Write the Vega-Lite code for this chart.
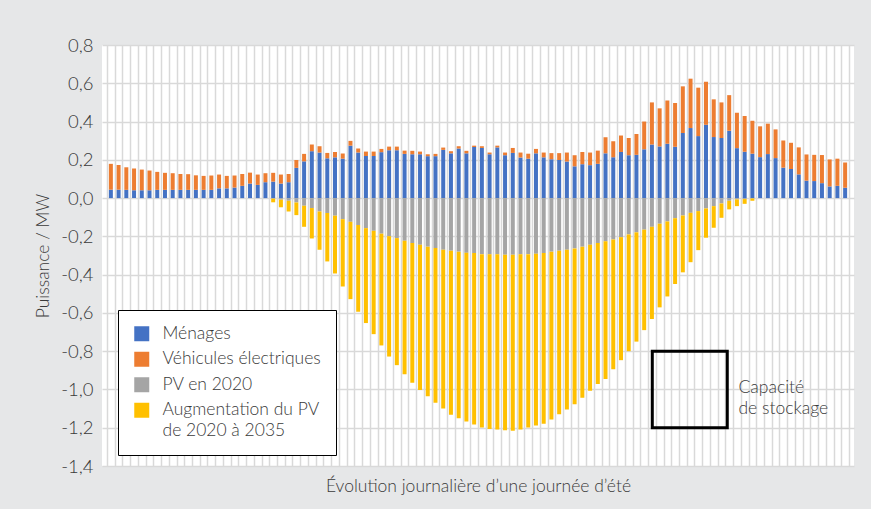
{
  "$schema": "https://vega.github.io/schema/vega-lite/v6.json",
  "autosize": {"type": "none"},
  "width": 752,
  "height": 421,
  "padding": {"left": 102, "top": 45, "right": 17, "bottom": 43},
  "background": "#e6e7e8",
  "config": {
    "font": "Lato",
    "view": {"fill": "white", "stroke": null},
    "axis": {"labelColor": "#3a3a3a", "titleColor": "#3a3a3a", "titleFontWeight": 300, "labelFontWeight": 300, "gridColor": "#d9d9d9", "gridWidth": 1.5}
  },
  "layer": [
    {
      "data": {"values": [
        {"t":0,"men":0.044,"ve":0.135,"pv":0,"pva":0},
        {"t":1,"men":0.044,"ve":0.129,"pv":0,"pva":0},
        {"t":2,"men":0.043,"ve":0.118,"pv":0,"pva":0},
        {"t":3,"men":0.041,"ve":0.113,"pv":0,"pva":0},
        {"t":4,"men":0.041,"ve":0.108,"pv":0,"pva":0},
        {"t":5,"men":0.041,"ve":0.103,"pv":0,"pva":0},
        {"t":6,"men":0.043,"ve":0.094,"pv":0,"pva":0},
        {"t":7,"men":0.043,"ve":0.089,"pv":0,"pva":0},
        {"t":8,"men":0.043,"ve":0.087,"pv":0,"pva":0},
        {"t":9,"men":0.043,"ve":0.083,"pv":0,"pva":0},
        {"t":10,"men":0.043,"ve":0.082,"pv":0,"pva":0},
        {"t":11,"men":0.043,"ve":0.076,"pv":0,"pva":0},
        {"t":12,"men":0.043,"ve":0.073,"pv":0,"pva":0},
        {"t":13,"men":0.043,"ve":0.075,"pv":0,"pva":0},
        {"t":14,"men":0.051,"ve":0.072,"pv":0,"pva":0},
        {"t":15,"men":0.051,"ve":0.065,"pv":0,"pva":0},
        {"t":16,"men":0.055,"ve":0.063,"pv":0,"pva":0},
        {"t":17,"men":0.064,"ve":0.062,"pv":0,"pva":0},
        {"t":18,"men":0.076,"ve":0.057,"pv":0,"pva":0},
        {"t":19,"men":0.069,"ve":0.054,"pv":0,"pva":0},
        {"t":20,"men":0.083,"ve":0.047,"pv":0,"pva":0},
        {"t":21,"men":0.086,"ve":0.046,"pv":-0.003,"pva":-0.019},
        {"t":22,"men":0.076,"ve":0.047,"pv":-0.008,"pva":-0.040},
        {"t":23,"men":0.083,"ve":0.043,"pv":-0.014,"pva":-0.056},
        {"t":24,"men":0.158,"ve":0.041,"pv":-0.023,"pva":-0.066},
        {"t":25,"men":0.192,"ve":0.039,"pv":-0.040,"pva":-0.110},
        {"t":26,"men":0.245,"ve":0.035,"pv":-0.052,"pva":-0.159},
        {"t":27,"men":0.238,"ve":0.033,"pv":-0.070,"pva":-0.200},
        {"t":28,"men":0.208,"ve":0.028,"pv":-0.078,"pva":-0.253},
        {"t":29,"men":0.213,"ve":0.028,"pv":-0.092,"pva":-0.302},
        {"t":30,"men":0.206,"ve":0.027,"pv":-0.110,"pva":-0.352},
        {"t":31,"men":0.274,"ve":0.025,"pv":-0.124,"pva":-0.404},
        {"t":32,"men":0.238,"ve":0.021,"pv":-0.141,"pva":-0.453},
        {"t":33,"men":0.220,"ve":0.023,"pv":-0.157,"pva":-0.496},
        {"t":34,"men":0.220,"ve":0.023,"pv":-0.171,"pva":-0.540},
        {"t":35,"men":0.240,"ve":0.017,"pv":-0.186,"pva":-0.584},
        {"t":36,"men":0.250,"ve":0.019,"pv":-0.199,"pva":-0.629},
        {"t":37,"men":0.250,"ve":0.019,"pv":-0.209,"pva":-0.664},
        {"t":38,"men":0.231,"ve":0.017,"pv":-0.223,"pva":-0.697},
        {"t":39,"men":0.229,"ve":0.018,"pv":-0.235,"pva":-0.730},
        {"t":40,"men":0.229,"ve":0.014,"pv":-0.244,"pva":-0.759},
        {"t":41,"men":0.219,"ve":0.010,"pv":-0.254,"pva":-0.781},
        {"t":42,"men":0.219,"ve":0.012,"pv":-0.261,"pva":-0.809},
        {"t":43,"men":0.252,"ve":0.012,"pv":-0.270,"pva":-0.829},
        {"t":44,"men":0.234,"ve":0.011,"pv":-0.275,"pva":-0.857},
        {"t":45,"men":0.259,"ve":0.012,"pv":-0.280,"pva":-0.870},
        {"t":46,"men":0.234,"ve":0.013,"pv":-0.286,"pva":-0.881},
        {"t":47,"men":0.267,"ve":0.007,"pv":-0.287,"pva":-0.896},
        {"t":48,"men":0.262,"ve":0.009,"pv":-0.293,"pva":-0.906},
        {"t":49,"men":0.229,"ve":0.009,"pv":-0.294,"pva":-0.912},
        {"t":50,"men":0.265,"ve":0.009,"pv":-0.294,"pva":-0.915},
        {"t":51,"men":0.224,"ve":0.014,"pv":-0.296,"pva":-0.917},
        {"t":52,"men":0.236,"ve":0.026,"pv":-0.296,"pva":-0.920},
        {"t":53,"men":0.212,"ve":0.026,"pv":-0.294,"pva":-0.915},
        {"t":54,"men":0.206,"ve":0.026,"pv":-0.293,"pva":-0.906},
        {"t":55,"men":0.234,"ve":0.023,"pv":-0.291,"pva":-0.897},
        {"t":56,"men":0.213,"ve":0.025,"pv":-0.287,"pva":-0.892},
        {"t":57,"men":0.203,"ve":0.032,"pv":-0.280,"pva":-0.877},
        {"t":58,"men":0.199,"ve":0.036,"pv":-0.275,"pva":-0.854},
        {"t":59,"men":0.191,"ve":0.047,"pv":-0.270,"pva":-0.835},
        {"t":60,"men":0.166,"ve":0.058,"pv":-0.263,"pva":-0.814},
        {"t":61,"men":0.177,"ve":0.064,"pv":-0.254,"pva":-0.790},
        {"t":62,"men":0.172,"ve":0.066,"pv":-0.244,"pva":-0.763},
        {"t":63,"men":0.179,"ve":0.069,"pv":-0.235,"pva":-0.737},
        {"t":64,"men":0.234,"ve":0.084,"pv":-0.226,"pva":-0.720},
        {"t":65,"men":0.213,"ve":0.084,"pv":-0.216,"pva":-0.679},
        {"t":66,"men":0.241,"ve":0.086,"pv":-0.204,"pva":-0.643},
        {"t":67,"men":0.224,"ve":0.090,"pv":-0.190,"pva":-0.610},
        {"t":68,"men":0.226,"ve":0.109,"pv":-0.179,"pva":-0.571},
        {"t":69,"men":0.255,"ve":0.145,"pv":-0.165,"pva":-0.525},
        {"t":70,"men":0.280,"ve":0.220,"pv":-0.150,"pva":-0.482},
        {"t":71,"men":0.270,"ve":0.199,"pv":-0.134,"pva":-0.437},
        {"t":72,"men":0.284,"ve":0.226,"pv":-0.122,"pva":-0.392},
        {"t":73,"men":0.268,"ve":0.229,"pv":-0.105,"pva":-0.344},
        {"t":74,"men":0.340,"ve":0.244,"pv":-0.091,"pva":-0.297},
        {"t":75,"men":0.366,"ve":0.258,"pv":-0.077,"pva":-0.258},
        {"t":76,"men":0.324,"ve":0.253,"pv":-0.068,"pva":-0.204},
        {"t":77,"men":0.383,"ve":0.225,"pv":-0.054,"pva":-0.153},
        {"t":78,"men":0.319,"ve":0.197,"pv":-0.042,"pva":-0.113},
        {"t":79,"men":0.314,"ve":0.186,"pv":-0.028,"pva":-0.075},
        {"t":80,"men":0.352,"ve":0.186,"pv":-0.014,"pva":-0.045},
        {"t":81,"men":0.261,"ve":0.185,"pv":-0.007,"pva":-0.035},
        {"t":82,"men":0.242,"ve":0.187,"pv":-0.005,"pva":-0.025},
        {"t":83,"men":0.232,"ve":0.172,"pv":-0.002,"pva":-0.012},
        {"t":84,"men":0.214,"ve":0.161,"pv":0,"pva":0},
        {"t":85,"men":0.230,"ve":0.159,"pv":0,"pva":0},
        {"t":86,"men":0.209,"ve":0.150,"pv":0,"pva":0},
        {"t":87,"men":0.159,"ve":0.142,"pv":0,"pva":0},
        {"t":88,"men":0.152,"ve":0.137,"pv":0,"pva":0},
        {"t":89,"men":0.124,"ve":0.141,"pv":0,"pva":0},
        {"t":90,"men":0.091,"ve":0.137,"pv":0,"pva":0},
        {"t":91,"men":0.089,"ve":0.137,"pv":0,"pva":0},
        {"t":92,"men":0.078,"ve":0.147,"pv":0,"pva":0},
        {"t":93,"men":0.061,"ve":0.141,"pv":0,"pva":0},
        {"t":94,"men":0.064,"ve":0.142,"pv":0,"pva":0},
        {"t":95,"men":0.054,"ve":0.132,"pv":0,"pva":0}
      ]},
      "transform": [{"fold": ["men", "ve", "pv", "pva"], "as": ["serie", "val"]}],
      "mark": {"type": "bar", "size": 4},
      "encoding": {
        "x": {
          "field": "t", "type": "quantitative",
          "scale": {"domain": [-0.5, 95.5], "nice": false, "zero": false},
          "axis": {
            "values": [-0.5,0.5,1.5,2.5,3.5,4.5,5.5,6.5,7.5,8.5,9.5,10.5,11.5,12.5,13.5,14.5,15.5,16.5,17.5,18.5,19.5,20.5,21.5,22.5,23.5,24.5,25.5,26.5,27.5,28.5,29.5,30.5,31.5,32.5,33.5,34.5,35.5,36.5,37.5,38.5,39.5,40.5,41.5,42.5,43.5,44.5,45.5,46.5,47.5,48.5,49.5,50.5,51.5,52.5,53.5,54.5,55.5,56.5,57.5,58.5,59.5,60.5,61.5,62.5,63.5,64.5,65.5,66.5,67.5,68.5,69.5,70.5,71.5,72.5,73.5,74.5,75.5,76.5,77.5,78.5,79.5,80.5,81.5,82.5,83.5,84.5,85.5,86.5,87.5,88.5,89.5,90.5,91.5,92.5,93.5,94.5,95.5],
            "tickCount": 500,
            "grid": true, "labels": false, "ticks": false, "domain": false,
            "title": "Évolution journalière d’une journée d’été",
            "titleFontSize": 17.5, "titlePadding": 11
          }
        },
        "y": {
          "field": "val", "type": "quantitative", "stack": "zero",
          "scale": {"domain": [-1.4, 0.8], "nice": false},
          "axis": {
            "values": [-1.4,-1.2,-1.0,-0.8,-0.6,-0.4,-0.2,0,0.2,0.4,0.6,0.8],
            "tickCount": 50, "labelOverlap": false,
            "labelExpr": "replace(replace(format(datum.value, '.1f'), '.', ','), '−', '-')",
            "grid": true, "ticks": false, "domain": false,
            "labelFontSize": 18.5, "labelPadding": 9,
            "title": "Puissance / MW", "titleFontSize": 17.5, "titlePadding": 8
          }
        },
        "color": {
          "field": "serie", "type": "nominal",
          "scale": {"domain": ["men", "ve", "pv", "pva"], "range": ["#4472c4", "#ed7d31", "#a5a5a5", "#ffc000"]},
          "legend": {
            "orient": "none", "legendX": 16, "legendY": 265, "title": null,
            "symbolType": "square", "symbolSize": 225, "symbolStrokeWidth": 0,
            "labelFontSize": 17.5, "labelFontWeight": 300, "labelColor": "#3a3a3a", "labelOffset": 12, "labelLimit": 300,
            "rowPadding": 6.5, "padding": 15,
            "strokeColor": "#000000", "fillColor": "#ffffff",
            "labelExpr": "datum.label == 'men' ? 'Ménages' : datum.label == 've' ? 'Véhicules électriques' : datum.label == 'pv' ? 'PV en 2020' : ['Augmentation du PV', 'de 2020 à 2035']",
            "encode": {"labels": {"update": {"lineHeight": {"value": 21}}}}
          }
        },
        "order": {"field": "serie", "sort": "ascending"}
      }
    },
    {
      "data": {"values": [{"t": 70.05, "t2": 79.75, "val": -0.8, "val2": -1.2}]},
      "mark": {"type": "rect", "fill": null, "stroke": "#000000", "strokeWidth": 3},
      "encoding": {
        "x": {"field": "t", "type": "quantitative"},
        "x2": {"field": "t2"},
        "y": {"field": "val", "type": "quantitative"},
        "y2": {"field": "val2"}
      }
    },
    {
      "data": {"values": [{"t": 81.2, "val": -0.994, "label": "Capacité\nde stockage"}]},
      "mark": {"type": "text", "align": "left", "baseline": "middle", "fontSize": 17.5, "fontWeight": 300, "lineBreak": "\n", "lineHeight": 21, "color": "#3a3a3a"},
      "encoding": {
        "x": {"field": "t", "type": "quantitative"},
        "y": {"field": "val", "type": "quantitative"},
        "text": {"field": "label"}
      }
    }
  ]
}
